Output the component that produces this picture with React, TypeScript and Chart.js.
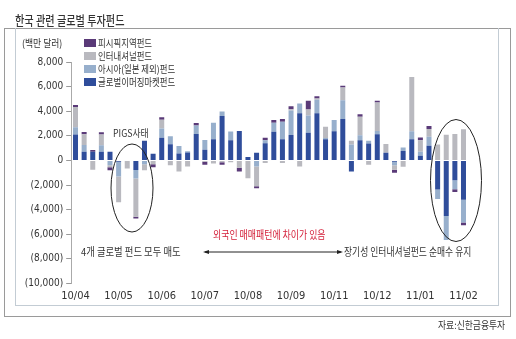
import React, { useEffect, useRef } from 'react';
import { Chart, registerables } from 'chart.js';

Chart.register(...registerables);

// ---- data (백만 달러) ----
const tickLabels = ['10/04', '10/05', '10/06', '10/07', '10/08', '10/09', '10/11', '10/12', '11/01', '11/02'];
const labelEvery = 5;

const emerging = [2100, 700, 700, 700, 700, -100, 0, -770, 1600, 550, 1850, 1320, 560, 640, 2150, 860, 1730, 3620, 1650, 2400, 280, 620, 1400, 2330, 1730, 2060, 3830, 2250, 3830, 1730, 2380, 3360, -900, 1650, 1380, 2130, 620, -100, 770, 1730, 380, 1190, -2360, -4520, -1600, -3200];
const asiaExJapan = [600, 550, 0, 540, -400, -1200, 0, -700, -300, 0, 750, 640, 620, 100, 680, 800, 1330, 350, 700, 0, 0, -500, 250, 740, 1410, 2000, 800, 1400, 1100, 100, 900, 1540, 1300, 400, 220, 270, 0, -300, 280, 650, 320, 730, -780, -1950, -750, -1850];
const international = [1650, 870, -750, 870, -150, -2100, -650, -3100, -500, -300, 700, -400, -900, -500, 0, -100, -250, -150, -150, -600, -1450, -1600, -200, 0, -200, 100, -500, 500, 100, 900, 0, 1030, 300, 1500, -350, 2300, 720, -350, -510, 4400, 950, 630, 1300, 2080, 2140, 2530];
const pacific = [150, 190, 150, 190, -250, 0, 0, -150, 0, -250, 220, 0, 0, 0, 220, -250, 0, -200, 0, -300, 0, -150, 200, 220, 220, 250, 0, 700, 180, 0, 0, 140, 0, 210, 0, 160, 0, -250, 0, 0, 220, 250, 0, 0, -220, -220];

const yMin = -10000;
const yMax = 8000;
const yStep = 2000;

const seriesNames = ['글로벌이머징마켓펀드', '아시아(일본 제외)펀드', '인터내셔널펀드', '피시픽지역펀드'];
const seriesColors = ['#2f4d9b', '#97afcc', '#b9b9bf', '#5a3a78'];

const KR = '"Noto Sans CJK KR", "Noto Sans", sans-serif';
const NUM = '"Liberation Sans Narrow", "DejaVu Sans Condensed", "Liberation Sans", Arial, sans-serif';

function fmt(v: number): string {
  const s = Math.abs(v).toLocaleString('en-US');
  return v < 0 ? `(${s})` : s;
}

function Label(props: { x: number; y: number; size: number; sx: number; color?: string; weight?: number; children: React.ReactNode }) {
  const { x, y, size, sx, color = '#333', weight = 400, children } = props;
  return (
    <div
      style={{
        position: 'absolute',
        left: x,
        top: y - size * 0.72,
        fontFamily: KR,
        fontSize: size,
        lineHeight: `${size * 1.4}px`,
        color,
        fontWeight: weight,
        whiteSpace: 'nowrap',
        transform: `scaleX(${sx})`,
        transformOrigin: 'left center',
      }}
    >
      {children}
    </div>
  );
}

export default function App() {
  const ref = useRef<HTMLCanvasElement | null>(null);

  useEffect(() => {
    if (!ref.current) return;
    const categories = emerging.map((_, i) => (i % labelEvery === 0 ? tickLabels[i / labelEvery] : ''));
    const series = [emerging, asiaExJapan, international, pacific];
    const chart = new Chart(ref.current, {
      type: 'bar',
      data: {
        labels: categories,
        datasets: series.map((d, i) => ({
          label: seriesNames[i],
          data: d,
          backgroundColor: seriesColors[i],
          borderWidth: 0,
          stack: 's',
          barPercentage: 0.58,
          categoryPercentage: 1,
        })),
      },
      options: {
        responsive: false,
        animation: false,
        layout: { padding: { left: 0, top: 62, right: 48.2, bottom: 35.5 } },
        plugins: { legend: { display: false }, tooltip: { enabled: false } },
        scales: {
          x: {
            stacked: true,
            grid: { display: false, drawTicks: false },
            border: { display: false },
            ticks: {
              autoSkip: false,
              maxRotation: 0,
              minRotation: 0,
              padding: 6,
              color: '#333',
              font: { family: NUM, size: 11 },
            },
            afterFit: (s: any) => {
              s.height = 20;
            },
          },
          y: {
            stacked: true,
            min: yMin,
            max: yMax,
            ticks: {
              stepSize: yStep,
              padding: 3,
              color: '#333',
              font: { family: NUM, size: 10 },
              callback: (v: any) => fmt(Number(v)),
            },
            grid: { drawOnChartArea: false, drawTicks: true, tickLength: 5, color: '#999' },
            border: { display: true, color: '#aaa' },
            afterFit: (s: any) => {
              s.width = 71.2;
            },
          },
        },
      },
    } as any);
    return () => chart.destroy();
  }, []);

  const legendItems = [3, 2, 1, 0];

  return (
    <div style={{ position: 'absolute', left: 0, top: 0, width: 516, height: 339, background: '#fff', overflow: 'hidden' }}>
      {/* frames */}
      <div style={{ position: 'absolute', left: 4, top: 28, width: 505, height: 287, border: '1px solid #9a9a9a' }} />
      <div style={{ position: 'absolute', left: 15, top: 28, width: 482, height: 277, borderLeft: '1px solid #c3ccd4', borderRight: '1px solid #c3ccd4', borderBottom: '1px solid #c3ccd4' }} />
      <canvas ref={ref} width={516} height={339} style={{ position: 'absolute', left: 0, top: 0, width: 516, height: 339 }} />

      <Label x={15} y={20} size={13} sx={0.78} weight={500}>한국 관련 글로벌 투자펀드</Label>
      <Label x={22} y={43} size={10} sx={0.88}>(백만 달러)</Label>

      {legendItems.map((si, r) => (
        <React.Fragment key={si}>
          <div style={{ position: 'absolute', left: 84, top: 39 + r * 13, width: 12, height: 8, background: seriesColors[si] }} />
          <Label x={98} y={43 + r * 13} size={10} sx={0.84}>{seriesNames[si]}</Label>
        </React.Fragment>
      ))}

      <Label x={113} y={133} size={10} sx={0.88}>PIGS사태</Label>
      <Label x={81} y={252} size={11} sx={0.85}>4개 글로벌 펀드 모두 매도</Label>
      <Label x={213} y={235} size={11} sx={0.81} color="#d4203a">외국인 매매패턴에 차이가 있음</Label>
      <Label x={344} y={252} size={11} sx={0.8}>장기성 인터내셔널펀드 순매수 유지</Label>
      <Label x={438} y={325} size={10} sx={0.88}>자료:신한금융투자</Label>

      <svg width={516} height={339} style={{ position: 'absolute', left: 0, top: 0, pointerEvents: 'none' }}>
        <ellipse cx={132} cy={188} rx={21} ry={44} fill="none" stroke="#222" strokeWidth={1} />
        <ellipse cx={456} cy={180.5} rx={25.5} ry={61} fill="none" stroke="#222" strokeWidth={1} />
        <line x1={205} y1={252} x2={341} y2={252} stroke="#222" strokeWidth={1} />
        <polygon points="203,252 209,250 209,254" fill="#222" />
        <polygon points="343,252 337,250 337,254" fill="#222" />
      </svg>
    </div>
  );
}
